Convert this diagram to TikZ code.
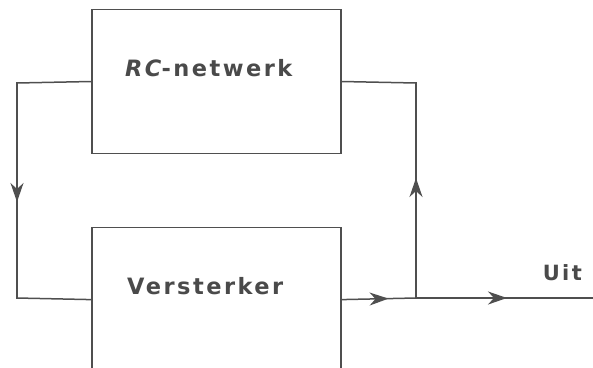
\documentclass[tikz,border=0pt]{standalone}
\usepackage{fontspec}
\setsansfont{DejaVu Sans}
\newfontfamily\lblfont{DejaVu Sans}[LetterSpace=11]
\usetikzlibrary{
  arrows.meta,
  positioning,
  decorations.markings
}
\definecolor{scanInk}{HTML}{4F4F4F}
\definecolor{scanText}{HTML}{4A4A4A}
\tikzset{
  block/.style={
    draw=scanInk, line width=1.6pt, minimum width=249pt, minimum height=144pt
  },
  wire/.style={draw=scanInk, line width=1.5pt, line cap=rect},
  blocklabel/.style={font=\lblfont\bfseries\fontsize{22.5}{26}\selectfont, text=scanText, inner sep=0pt, anchor=base},
  uitlabel/.style={font=\lblfont\bfseries\fontsize{21}{25}\selectfont, text=scanText, inner sep=0pt},
  midarrow/.style={postaction={decorate, decoration={markings,
    mark=at position #1 with {\arrow[scanInk]{Stealth[length=19pt, width=13pt, inset=6pt]}}}}}
}

\begin{document}
\begin{tikzpicture}[x=1pt, y=-1pt]
  \useasboundingbox (0,0) rectangle (593,367);
  \clip (0,0) rectangle (593,367);
  % blocks
  \node[block, label={[blocklabel, xshift=-7.5pt, yshift=13.5pt]center:{\itshape RC}-netwerk}] (rc) at (216.25,81.5) {};
  \node[block, below=72.5pt of rc, label={[blocklabel, xshift=-11pt, yshift=13pt]center:Versterker}] (amp) {};
  % corners and branch
  \coordinate (tl) at (17,83);
  \coordinate (bl) at (17,298);
  \coordinate (br) at (416,298);
  \coordinate (tr) at (416,83);
  \coordinate (out) at (593,298);
  % feedback loop
  \draw[wire] (rc.west) -- (tl);
  \draw[wire, midarrow=119pt] (tl) -- (bl);
  \draw[wire] (bl) -- (amp.west);
  \draw[wire, midarrow=47pt] (amp.east) -- (br);
  \draw[wire, midarrow=120pt] (br) -- (tr);
  \draw[wire] (tr) -- (rc.east);
  % output
  \draw[wire, midarrow=91pt] (br) -- (out);
  \node[uitlabel, anchor=base east] (uit) at ([shift={(-11,-18)}]out) {Uit};
\end{tikzpicture}
\end{document}
